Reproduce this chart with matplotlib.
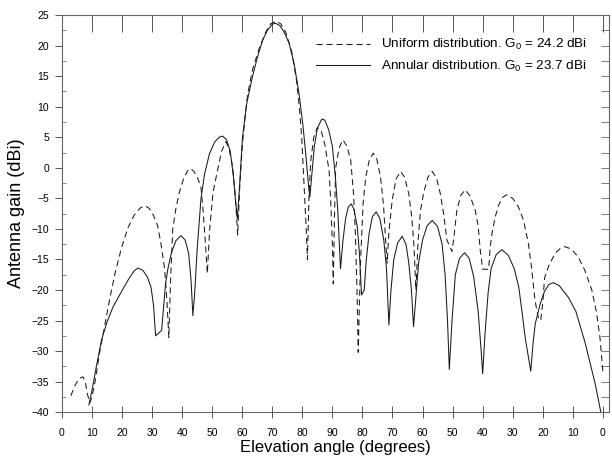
import numpy as np
import matplotlib
matplotlib.use('Agg')
import matplotlib.pyplot as plt
from matplotlib.ticker import MultipleLocator

plt.rcParams['font.family'] = ['Liberation Sans', 'DejaVu Sans']

# position along the scan: 0..90 deg on one side, then back down to 0 (90..180)
uniform_pos = [3.0, 4.5, 5.8, 7.0, 7.8, 8.5, 9.3, 10.0, 10.9, 12.5, 14.3, 16.0, 17.6, 19.8,
               22.0, 24.0, 26.0, 27.6, 29.0, 30.5, 31.9, 33.0, 34.2, 35.0, 35.6, 36.2, 36.9,
               38.0, 39.1, 40.5, 41.8, 42.8, 44.0, 45.3, 46.3, 47.0, 47.8, 48.4, 49.2, 50.3,
               51.8, 53.2, 54.6, 55.7, 56.8, 57.7, 58.5, 59.2, 60.1, 61.0, 61.8, 63.5, 65.7,
               67.8, 69.5, 71.3, 72.8, 74.5, 76.5, 78.0, 78.9, 79.8, 80.6, 81.3, 81.7, 82.2,
               82.8, 83.8, 85.0, 86.2, 87.5, 88.9, 89.5, 90.0, 90.3, 90.7, 91.1, 92.2, 93.5,
               94.8, 96.1, 97.0, 97.6, 98.2, 98.6, 99.0, 99.4, 100.2, 101.1, 102.3, 103.6,
               104.8, 106.0, 107.0, 107.7, 108.2, 108.8, 109.9, 111.2, 112.7, 114.0, 115.4,
               116.4, 117.1, 117.8, 118.5, 119.3, 120.4, 121.8, 123.2, 124.6, 125.9, 127.0,
               128.1, 129.8, 130.5, 131.4, 132.7, 134.2, 135.8, 137.5, 138.5, 139.2, 140.0,
               142.0, 142.5, 143.1, 144.2, 145.3, 146.7, 148.0, 150.0, 151.9, 153.6, 155.2,
               156.3, 157.4, 158.5, 159.3, 160.0, 160.6, 162.0, 164.1, 165.8, 167.4, 169.5,
               171.8, 174.0, 176.3, 177.8, 179.0, 180.0]
uniform_gain = [-37.3, -35.5, -34.5, -34.2, -35.0, -37.0, -38.5, -37.5, -35.5, -30.5, -25.8,
                -21.3, -17.5, -13.2, -9.8, -7.8, -6.6, -6.2, -6.6, -7.8, -9.5, -12.5, -16.5,
                -22.0, -27.8, -18.0, -10.0, -6.5, -4.0, -1.8, -0.5, -0.1, -0.6, -1.8, -3.2,
                -7.0, -12.5, -17.3, -10.0, -4.0, -0.4, 2.8, 4.3, 3.0, 0.2, -4.5, -11.0, -3.0,
                4.0, 8.5, 12.0, 16.2, 19.6, 22.2, 23.6, 24.0, 23.6, 22.2, 19.0, 14.5, 10.5,
                5.0, -3.0, -10.0, -15.0, -5.0, 1.1, 5.0, 6.6, 6.2, 3.8, -0.4, -6.0, -12.4,
                -19.0, -8.0, 0.0, 3.2, 4.6, 3.6, 1.3, -4.0, -10.0, -20.0, -30.2, -22.0, -15.1,
                -6.0, -1.5, 1.3, 2.4, 1.4, -1.5, -6.0, -11.8, -15.6, -10.5, -5.3, -1.8, -0.6,
                -1.5, -4.2, -8.0, -12.5, -20.0, -12.0, -7.0, -4.0, -1.5, -0.6, -1.6, -4.2,
                -7.5, -11.8, -13.7, -11.0, -7.0, -4.5, -3.6, -4.6, -6.9, -9.5, -13.5, -16.6,
                -16.6, -13.0, -10.7, -8.0, -6.1, -4.8, -4.4, -5.0, -6.4, -8.6, -12.4, -16.5,
                -21.7, -24.5, -25.0, -22.0, -18.0, -16.0, -14.0, -13.2, -12.9, -13.3, -14.6,
                -16.8, -20.0, -23.5, -27.7, -33.5]

annular_pos = [9.0, 10.0, 11.5, 13.2, 15.0, 17.0, 19.8, 22.0, 24.0, 25.3, 27.0, 28.5, 29.7,
               30.5, 31.2, 33.2, 33.8, 34.5, 35.3, 36.5, 38.0, 39.6, 41.0, 42.2, 43.0, 43.6,
               44.2, 45.0, 46.3, 47.5, 49.1, 50.8, 52.3, 53.5, 54.8, 56.0, 57.0, 57.8, 58.4,
               59.0, 60.1, 61.5, 63.4, 65.0, 66.8, 68.5, 70.0, 71.0, 72.5, 74.0, 75.6, 77.3,
               78.9, 80.2, 81.2, 82.0, 82.5, 83.0, 84.0, 85.0, 86.5, 87.5, 88.8, 90.0, 91.0,
               91.8, 92.7, 93.5, 94.4, 95.3, 96.3, 97.2, 98.3, 99.0, 99.7, 100.6, 101.2,
               102.2, 103.3, 104.6, 105.8, 107.1, 108.0, 108.8, 109.5, 110.4, 111.7, 113.2,
               114.5, 115.4, 116.3, 117.0, 117.8, 118.7, 120.0, 121.5, 123.2, 125.0, 126.5,
               127.5, 128.3, 128.9, 129.8, 130.9, 132.3, 134.0, 135.5, 137.0, 138.5, 139.5,
               140.0, 140.8, 141.8, 142.8, 144.5, 146.4, 148.5, 150.5, 152.0, 153.2, 154.2,
               155.2, 156.0, 156.8, 157.5, 159.0, 160.5, 162.0, 163.5, 165.5, 168.5, 171.0,
               174.0, 176.0, 177.5, 179.3]
annular_gain = [-38.8, -36.5, -32.5, -28.2, -25.3, -22.8, -20.3, -18.4, -16.9, -16.4, -16.8,
                -17.9, -19.6, -22.5, -27.5, -26.6, -23.0, -19.0, -16.5, -13.8, -11.9, -11.1,
                -11.8, -14.0, -18.5, -24.2, -20.5, -13.5, -5.0, -1.0, 2.3, 4.2, 5.0, 5.2, 4.6,
                2.8, -1.0, -5.5, -8.3, -4.0, 5.0, 10.5, 14.9, 18.0, 20.9, 22.6, 23.5, 23.7,
                23.3, 22.2, 20.4, 17.0, 12.2, 7.0, 2.0, -2.5, -4.8, -2.0, 3.5, 6.5, 8.0, 7.8,
                6.2, 3.5, -1.5, -7.0, -16.5, -12.0, -8.3, -6.4, -5.9, -6.8, -9.7, -14.0, -20.8,
                -20.0, -15.5, -10.8, -8.0, -7.2, -8.3, -11.8, -16.5, -25.7, -20.0, -15.1,
                -12.3, -11.2, -12.5, -15.5, -20.0, -26.0, -21.0, -15.5, -11.8, -9.5, -8.6,
                -9.6, -12.5, -17.5, -25.0, -33.0, -25.0, -17.5, -14.8, -13.9, -14.8, -17.8,
                -23.5, -30.0, -33.7, -27.0, -20.5, -16.5, -14.2, -13.4, -14.3, -16.5, -19.5,
                -24.0, -28.0, -31.0, -33.3, -28.5, -25.5, -22.5, -20.3, -19.1, -18.8, -19.3,
                -21.2, -23.5, -28.5, -32.5, -35.5, -40.0]

tick_pos = list(range(0, 181, 10))
tick_labels = [str(v) for v in list(range(0, 91, 10)) + list(range(80, -1, -10))]

fig = plt.figure(figsize=(6.12, 4.59), dpi=100)
ax = fig.add_axes([0.101, 0.102, 0.894, 0.865])

line_col = '#1a1a1a'
ax.plot(uniform_pos, uniform_gain, color=line_col, lw=0.75, dashes=(5.8, 3.8),
        label=r'Uniform distribution. $\mathregular{G_0}$ = 24.2 dBi')
ax.plot(annular_pos, annular_gain, color=line_col, lw=0.75,
        label=r'Annular distribution. $\mathregular{G_0}$ = 23.7 dBi')

ax.set_xlim(0, 182)
ax.set_ylim(-40, 25)
ax.set_xticks(tick_pos)
ax.set_xticklabels(tick_labels)
ax.yaxis.set_major_locator(MultipleLocator(5))
ax.yaxis.set_minor_locator(MultipleLocator(2.5))

for sp in ax.spines.values():
    sp.set_color('#666666')
    sp.set_linewidth(0.8)

ax.tick_params(axis='x', which='major', direction='inout', length=9, width=0.7,
               colors='#555555', labelcolor='black', labelsize=7.5, pad=7)
ax.tick_params(axis='y', which='major', direction='out', length=5, width=0.7,
               colors='#555555', labelcolor='black', labelsize=7.5, pad=4)
ax.tick_params(axis='y', which='minor', direction='in', length=3, width=0.6,
               colors='#777777')

# top and right frame ticks point inwards
top = ax.secondary_xaxis('top')
top.set_xticks(tick_pos)
top.tick_params(direction='in', length=12, width=0.7, colors='#555555', labeltop=False)
top.spines['top'].set_visible(False)
right = ax.secondary_yaxis('right')
right.yaxis.set_major_locator(MultipleLocator(2.5))
right.tick_params(direction='in', length=6, width=0.6, colors='#666666', labelright=False)
right.spines['right'].set_visible(False)

ax.set_xlabel('Elevation angle (degrees)', fontsize=12, labelpad=1)
ax.set_ylabel('Antenna gain (dBi)', fontsize=13, labelpad=5)

ax.legend(loc='upper right', frameon=False, fontsize=9.7, handlelength=4.0,
          handletextpad=0.8, labelspacing=0.5, borderaxespad=1.25)

fig.savefig('out.png', dpi=100)
